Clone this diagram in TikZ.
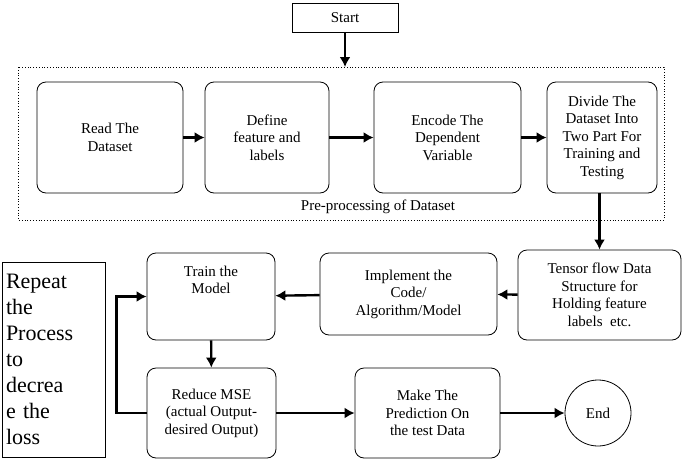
\documentclass[tikz,border=0pt]{standalone}
\usepackage{fontspec}
\setmainfont{Liberation Serif}
\usetikzlibrary{arrows.meta}
\begin{document}
\begin{tikzpicture}[x=1pt,y=-1pt,
  box/.style={draw,rounded corners=9pt,line width=0.8pt,align=center,font=\fontsize{15}{17.5}\selectfont,inner sep=2pt},
  arr/.style={line width=2.4pt,-{Latex[length=10pt,width=11pt]}}]
\useasboundingbox (0,0) rectangle (685,469);
\node[draw,line width=0.8pt,minimum width=106pt,minimum height=29pt,font=\fontsize{15}{17}\selectfont] (start) at (345,17.5) {Start};
\draw[dotted,line width=0.8pt] (18,67) rectangle (664,220);
\coordinate (dtop) at (345,67);
\node[font=\fontsize{15}{17}\selectfont] (pre) at (378,207) {Pre-processing of Dataset};
\node[box,minimum width=146pt,minimum height=111pt] (read) at (110,137.5) {Read The\\Dataset};
\node[box,minimum width=124pt,minimum height=111pt] (def) at (267,137.5) {Define\\feature and\\labels};
\node[box,minimum width=147pt,minimum height=111pt] (enc) at (447.5,137.5) {Encode The\\Dependent\\Variable};
\node[box,minimum width=110pt,minimum height=111pt] (div) at (602,137.5) {Divide The\\Dataset Into\\Two Part For\\Training and\\Testing};
\node[box,minimum width=163pt,minimum height=90pt] (ten) at (599.5,295) {Tensor flow Data\\Structure for\\Holding feature\\labels\ \ etc.};
\node[box,minimum width=177pt,minimum height=82pt] (imp) at (408.5,294) {Implement the\\Code/\\Algorithm/Model};
\node[box,minimum width=128pt,minimum height=87pt] (train) at (211,296.5) {Train the\\Model\\[16pt]};
\node[box,minimum width=129pt,minimum height=90pt] (red) at (211.5,413) {Reduce MSE\\(actual Output-\\desired Output)};
\node[box,minimum width=145pt,minimum height=90pt] (make) at (427.5,413) {Make The\\Prediction On\\the test Data};
\node[draw,circle,line width=0.8pt,minimum size=66pt,font=\fontsize{15}{17}\selectfont] (end) at (598,413) {End};
\node[draw,line width=0.8pt,minimum width=103pt,minimum height=195pt,align=left,text width=95pt,font=\fontsize{22}{26}\selectfont] (rep) at (53.5,359.5) {Repeat\\the\\Process\\to\\decrea\\e the\\loss};
\draw[arr] (start) -- (dtop);
\draw[arr] (read) -- (def);
\draw[arr] (def) -- (enc);
\draw[arr] (enc) -- (div);
\draw[arr] (div.south -| ten.north) -- (ten.north);
\draw[arr] (ten) -- (imp);
\draw[arr] (imp) -- (train);
\draw[arr] (train) -- (red);
\draw[arr] (red) -- (make);
\draw[arr] (make) -- (end);
\draw[arr] (red.west) -- ++(-30,0) |- (train.west);
\end{tikzpicture}
\end{document}
